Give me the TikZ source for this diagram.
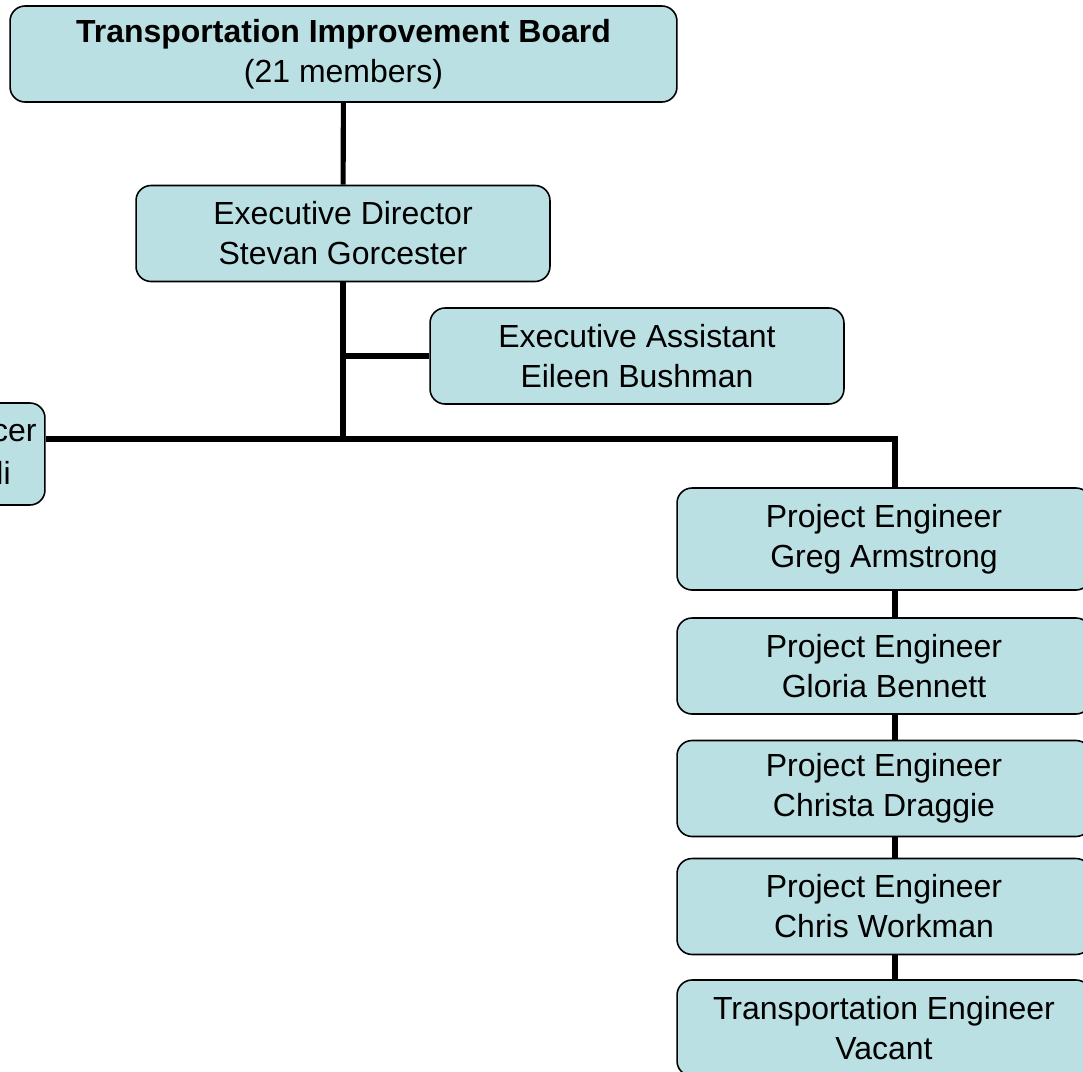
\documentclass[tikz,border=0pt]{standalone}
\usepackage{fontspec}
\setmainfont{Liberation Sans}
\usepackage{xcolor}
\usepackage{tikz}
\usetikzlibrary{positioning}

\definecolor{orgblue}{RGB}{187,224,227}

\tikzset{
    orgbox/.style={draw=black, line width=0.9pt, fill=orgblue, rounded corners=0.3cm,
        minimum width=8.28cm, minimum height=1.92cm, align=center, inner sep=2pt,
        font=\fontsize{18.2}{22.8}\selectfont},
    orgline/.style={line width=2.9pt, line join=miter}
}

\begin{document}
\begin{tikzpicture}[x=0.02cm, y=-0.02cm]
    \useasboundingbox (0,0) rectangle (1083,1072);
    \clip (0,0) rectangle (1083,1072);

    % Board and director
    \node[orgbox, minimum width=13.34cm] (board) at (343.5,54)
        {\textbf{Transportation Improvement Board}\\(21 members)};
    \node[orgbox] (dir) at (343,233.5) {Executive Director\\Stevan Gorcester};
    \node[orgbox] (asst) at (637,356) {Executive Assistant\\Eileen Bushman};

    % Left branch (runs off the page)
    \node[orgbox, minimum height=2.04cm] (left) at (-162,454) {};
    \node[anchor=east, inner sep=0pt, font=\fontsize{18.2}{22.8}\selectfont] (lefta) at (37,433) {cer};
    \node[anchor=east, inner sep=0pt, font=\fontsize{18.2}{22.8}\selectfont] (leftb) at (11,473) {li};

    % Engineers
    \node[orgbox, minimum height=2.04cm] (pea) at (884,539) {Project Engineer\\Greg Armstrong};
    \node[orgbox] (peb) at (884,666) {Project Engineer\\Gloria Bennett};
    \node[orgbox] (pec) at (884,788.5) {Project Engineer\\Christa Draggie};
    \node[orgbox] (ped) at (884,906.5) {Project Engineer\\Chris Workman};
    \node[orgbox] (pee) at (884,1028) {Transportation Engineer\\Vacant};

    % Connectors
    \coordinate (split) at (343,439);
    \coordinate (eng) at (895,439);
    \draw[orgline] (board) -- (dir);
    \draw[orgline] (dir) -- (split);
    \draw[orgline] (dir.south |- asst.west) -- (asst.west);
    \draw[orgline] (split) -- (split -| left.east);
    \draw[orgline] (split) -- (eng) -- (eng |- pea.north);
    \draw[orgline] (pea.south -| eng) -- (peb.north -| eng);
    \draw[orgline] (peb.south -| eng) -- (pec.north -| eng);
    \draw[orgline] (pec.south -| eng) -- (ped.north -| eng);
    \draw[orgline] (ped.south -| eng) -- (pee.north -| eng);
\end{tikzpicture}
\end{document}
